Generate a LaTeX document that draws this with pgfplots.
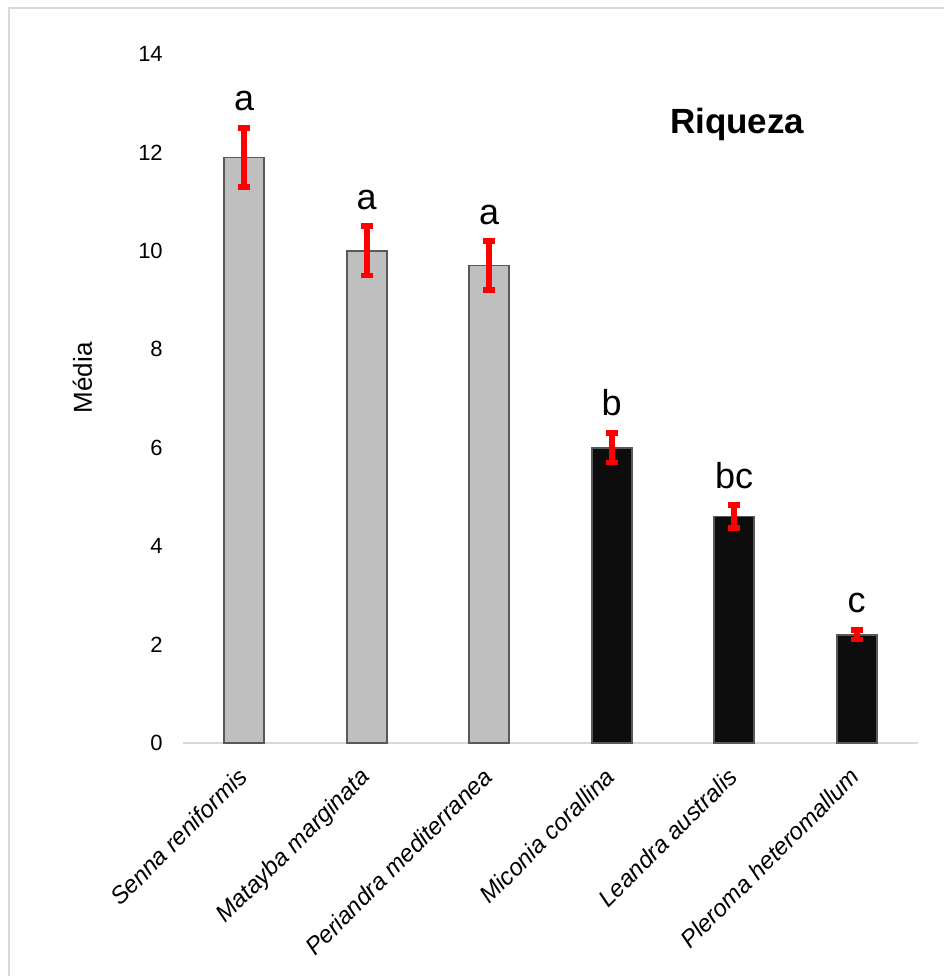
\documentclass[border=0pt]{standalone}
\usepackage{fontspec}
\setmainfont{Liberation Sans}
\usepackage{pgfplots}
\pgfplotsset{compat=1.18}
\usepackage{pgfplotstable}

\definecolor{barlight}{HTML}{BFBFBF}
\definecolor{bardark}{HTML}{0D0D0D}
\definecolor{baredge}{HTML}{595959}
\definecolor{framegray}{HTML}{D9D9D9}

% mean richness, standard error and group letter
\pgfplotstableread{
x y err lab
0 11.9 0.6 a
1 10.0 0.5 a
2 9.7 0.5 a
}\native
\pgfplotstableread{
x y err lab
3 6.0 0.3 b
4 4.6 0.23 bc
5 2.2 0.1 c
}\melast

\begin{document}
\begin{tikzpicture}[x=0.5pt,y=0.5pt]
\useasboundingbox (0,0) rectangle (944,976);
\draw[framegray, line width=0.8pt] (9,0) -- (9,968) -- (944,968);
\begin{axis}[
  at={(91.5pt,116.5pt)}, anchor=south west,
  scale only axis, width=367.5pt, height=344.5pt,
  xmin=-0.5, xmax=5.5, ymin=0, ymax=14,
  clip=false,
  axis x line=bottom, axis y line=left,
  x axis line style={draw=framegray, line width=0.8pt, -},
  y axis line style={draw=none},
  major tick length=0pt,
  ytick={0,2,...,14},
  xtick={0,...,5},
  xticklabels={Senna reniformis, Matayba marginata, Periandra mediterranea,
    Miconia corallina, Leandra australis, Pleroma heteromallum},
  xticklabel style={xshift=-4pt, yshift=-8.5pt, rotate=45, anchor=north east,
    font=\fontsize{12}{14}\selectfont\itshape, inner sep=2pt},
  yticklabel style={xshift=-6.6pt, font=\fontsize{11}{13}\selectfont},
  /pgf/number format/assume math mode=true,
  ylabel={Média},
  ylabel style={at={(rel axis cs:-0.137,0.53)}, anchor=center, font=\fontsize{13}{15}\selectfont},
  error bars/y dir=both, error bars/y explicit,
  error bars/error bar style={red, line width=3.2pt},
  error bars/error mark options={red, line width=2.8pt, mark size=3.1pt, rotate=90},
]
\addplot[ybar, bar width=20pt, bar shift=0pt, fill=barlight, draw=baredge, line width=0.8pt]
  table[x=x, y=y, y error=err] {\native};
\addplot[ybar, bar width=20pt, bar shift=0pt, fill=bardark, draw=baredge, line width=0.8pt]
  table[x=x, y=y, y error=err] {\melast};
% significance letters above the error bars
\addplot[draw=none, mark=none, nodes near coords, point meta=explicit symbolic,
  nodes near coords style={anchor=base, yshift=8.5pt, font=\fontsize{18}{20}\selectfont, text=black}]
  table[x=x, y expr=\thisrow{y}+\thisrow{err}, meta=lab] {\native};
\addplot[draw=none, mark=none, nodes near coords, point meta=explicit symbolic,
  nodes near coords style={anchor=base, yshift=8.5pt, font=\fontsize{18}{20}\selectfont, text=black}]
  table[x=x, y expr=\thisrow{y}+\thisrow{err}, meta=lab] {\melast};
\node[anchor=base, font=\fontsize{17.5}{19}\selectfont\bfseries] at (rel axis cs:0.754,0.885) {Riqueza};
\end{axis}
\end{tikzpicture}
\end{document}
